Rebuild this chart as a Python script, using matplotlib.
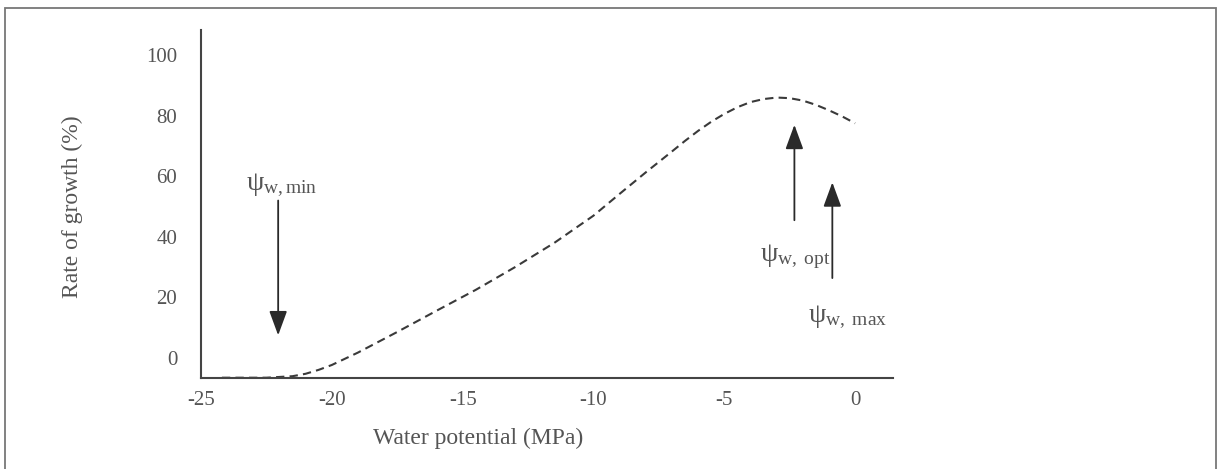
import matplotlib
matplotlib.use("Agg")
import matplotlib.pyplot as plt
from matplotlib.patches import Rectangle

# growth curve
water_potential = [-24.2, -23.0, -22.5, -21.5, -21.0, -20.5, -20.0, -19.0, -17.5, -16.0,
                   -14.5, -13.0, -11.5, -10.0, -9.0, -8.0, -7.0, -6.5, -6.0, -5.5,
                   -5.0, -4.5, -4.0, -3.5, -3.0, -2.5, -2.0, -1.5, -1.0, -0.5, 0.0]
growth_rate = [-6.5, -6.5, -6.5, -6.0, -5.2, -3.9, -2.3, 1.8, 8.6, 15.6,
               22.5, 30.0, 38.0, 47.0, 54.2, 61.3, 68.2, 71.7, 75.0, 78.0,
               80.6, 82.8, 84.5, 85.5, 86.0, 85.8, 85.0, 83.6, 81.8, 79.8, 77.5]

xticks = [-25, -20, -15, -10, -5, 0]
yticks = [0, 20, 40, 60, 80, 100]

# arrows: (label, x, tail y, tip y, text x, text y)
marks = [
    (r"$\mathrm{ψ}_{\mathrm{w,min}}$", -22.05, 52, 7.5, -21.9, 57),
    (r"$\mathrm{ψ}_{\mathrm{w,\ opt}}$", -2.32, 45.5, 77, -2.3, 33.5),
    (r"$\mathrm{ψ}_{\mathrm{w,\ max}}$", -0.87, 26.4, 58, -0.3, 13.5),
]

plt.rcParams["font.family"] = ["Liberation Serif", "DejaVu Serif"]
plt.rcParams["mathtext.fontset"] = "custom"
plt.rcParams["mathtext.rm"] = "Liberation Serif"
plt.rcParams["mathtext.it"] = "Liberation Serif:italic"

txt = "#555555"
ink = "#3a3a3a"

fig = plt.figure(figsize=(12.21, 4.69), dpi=100)
fig.patches.append(Rectangle((0.004, -0.02), 0.992, 1.003, transform=fig.transFigure,
                             fill=False, ec="#777777", lw=1.3))

ax = fig.add_axes([0.1646, 0.194, 0.5668, 0.742])
ax.plot(water_potential, growth_rate, color=ink, lw=1.5, ls=(0, (4, 2.5)), clip_on=False)

ax.set_xlim(-25, 1.45)
ax.set_ylim(-6.6, 108.3)
ax.set_xticks(xticks)
ax.set_yticks(yticks)
ax.set_xticklabels([str(t) for t in xticks])
ax.tick_params(axis="both", length=0, labelsize=15, labelcolor=txt)
ax.tick_params(axis="y", pad=17)
ax.tick_params(axis="x", pad=9)
for s in ["top", "right"]:
    ax.spines[s].set_visible(False)
for s in ["left", "bottom"]:
    ax.spines[s].set_color("#444444")
    ax.spines[s].set_linewidth(1.5)

for lab, x, y0, y1, tx, ty in marks:
    ax.annotate("", xy=(x, y1), xytext=(x, y0),
                arrowprops=dict(arrowstyle="-|>,head_length=1.5,head_width=0.55",
                                color="#2a2a2a", lw=1.3, shrinkA=0, shrinkB=0))
    ax.text(tx, ty, lab, ha="center", va="center", fontsize=20, color=txt)

fig.text(72 / 1221, 1 - 207 / 469, "Rate of growth (%)", rotation=90, ha="center",
         va="center", fontsize=17, color=txt)
fig.text(478 / 1221, 1 - 438 / 469, "Water potential (MPa)", ha="center", va="center",
         fontsize=17, color=txt)

fig.savefig("out.png", dpi=100)
